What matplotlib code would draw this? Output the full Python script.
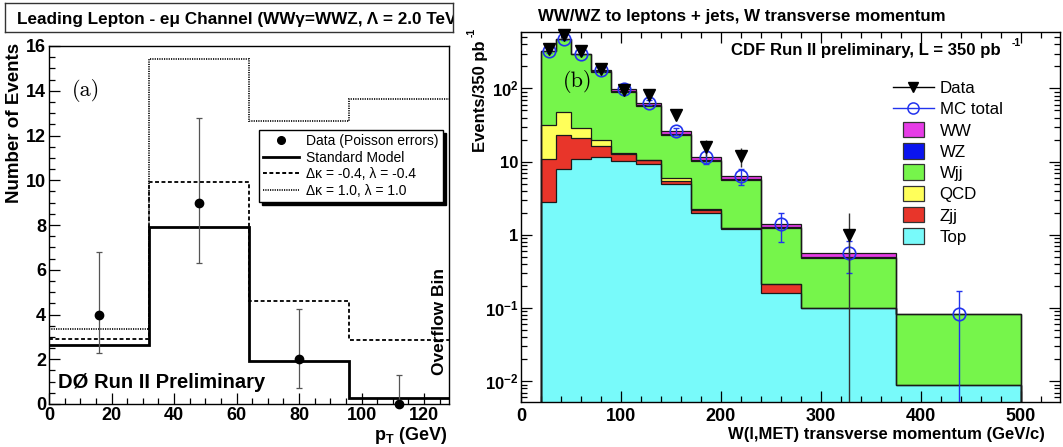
import numpy as np
import matplotlib
matplotlib.use('Agg')
import matplotlib.pyplot as plt
from matplotlib.lines import Line2D
from matplotlib.patches import Patch, Rectangle
from matplotlib.legend_handler import HandlerPatch
from matplotlib.ticker import MultipleLocator, FixedLocator, FixedFormatter, LogLocator, NullFormatter

plt.rcParams['font.family'] = ['Liberation Sans', 'DejaVu Sans']
plt.rcParams['mathtext.fontset'] = 'custom'
plt.rcParams['mathtext.rm'] = 'Liberation Sans'
plt.rcParams['mathtext.it'] = 'Liberation Sans:italic'
plt.rcParams['mathtext.bf'] = 'Liberation Sans:bold'

# ---- (a) D0 leading lepton pT, e-mu channel
d0_edges = [0, 32, 64, 96, 128]
d0_sm = [2.65, 7.9, 1.93, 0.27]
d0_dk_m04 = [2.9, 9.9, 4.62, 2.88]
d0_dk_p10 = [3.33, 15.4, 12.66, 13.65]
d0_data_x = [16, 48, 80, 112]
d0_data = [4, 9, 2, 0]
d0_err_lo = [1.7, 2.7, 1.3, 0.0]
d0_err_hi = [2.8, 3.8, 2.25, 1.3]

# ---- (b) CDF W transverse momentum, stacked MC
cdf_edges = [20, 35, 50, 70, 90, 115, 140, 170, 200, 240, 280, 375, 500]
cdf_top = [2.8, 7.9, 10.7, 11.4, 10.2, 9.2, 4.9, 1.97, 1.2, 0.16, 0.1, 0.0088]
cdf_zjj = [7.9, 15.1, 10.1, 5.1, 2.6, 1.3, 0.5, 0.23, 0.05, 0.05, 0.0, 0.0]
cdf_qcd = [20.9, 25.0, 8.2, 3.2, 0.3, 0.1, 0.5, 0.02, 0.0, 0.0, 0.0, 0.0]
cdf_wjj = [288, 424, 263, 149, 77.5, 47.7, 17.4, 8.1, 4.4, 1.02, 0.38, 0.074]
cdf_wz = [1.0, 2.0, 2.0, 2.0, 1.5, 1.2, 0.5, 0.25, 0.15, 0.03, 0.01, 0.0]
cdf_ww = [3.0, 6.0, 6.0, 7.0, 6.0, 4.5, 2.2, 1.1, 0.6, 0.15, 0.07, 0.0005]
cdf_mc_err = [15, 20, 15, 10, 6, 5, 3, 2.5, 1.6, 0.6, 0.26, 0.09]
cdf_data = [350, 533, 324, 183, 95, 81, 44, 16, 12, 0, 1, 0]
cdf_data_err = [19, 23, 18, 13.5, 9.7, 9, 6.6, 4, 3.5, 0, 1, 0]

W, H = 1063, 447
fig = plt.figure(figsize=(W / 100, H / 100), dpi=100)
fig.patch.set_facecolor('white')


def fx(px):
    return px / W


def fy(py):
    return 1 - py / H


# ---------------- left panel ----------------
tbox = fig.add_axes([fx(5), fy(32), fx(448), 29 / H])
tbox.set_xticks([])
tbox.set_yticks([])
for s in tbox.spines.values():
    s.set_linewidth(1.0)
    s.set_color('#333333')
tbox.text(0.027, 0.42, 'Leading Lepton - e\u03bc Channel (WW\u03b3=WWZ, \u039b = 2.0 TeV)',
          transform=tbox.transAxes, ha='left', va='center', fontsize=12.3,
          fontweight='bold', clip_on=True)

ax1 = fig.add_axes([fx(49), fy(404), fx(400), 358 / H])
ax1.stairs(d0_dk_p10, d0_edges, color='#222222', lw=1.4, ls=(0, (0.6, 0.6)), baseline=None)
ax1.stairs(d0_dk_m04, d0_edges, color='#111111', lw=1.4, ls=(0, (2, 1.3)), baseline=None)
ax1.stairs(d0_sm, d0_edges, color='black', lw=2.0, baseline=None)
ax1.errorbar(d0_data_x, d0_data, yerr=[d0_err_lo, d0_err_hi], fmt='o', color='black',
             ms=6, ecolor='#555555', elinewidth=0.9, capsize=2, capthick=0.9, clip_on=False, zorder=5)
ax1.set_xlim(0, 128)
ax1.set_ylim(0, 16)
ax1.xaxis.set_major_locator(MultipleLocator(20))
ax1.xaxis.set_minor_locator(MultipleLocator(5))
ax1.yaxis.set_major_locator(MultipleLocator(2))
ax1.yaxis.set_minor_locator(MultipleLocator(0.5))
ax1.tick_params(which='both', direction='in', labelsize=13, width=0.9)
ax1.tick_params(which='major', length=8)
ax1.tick_params(which='minor', length=4.5)
ax1.tick_params(axis='x', pad=2.5)
ax1.tick_params(axis='y', pad=2)
for lab in ax1.get_xticklabels() + ax1.get_yticklabels():
    lab.set_fontweight('bold')
for s in ax1.spines.values():
    s.set_linewidth(1.0)

leg1 = ax1.legend(
    [Line2D([], [], marker='o', color='black', ls='none', ms=5.5),
     Line2D([], [], color='black', lw=2.0),
     Line2D([], [], color='black', lw=1.4, ls=(0, (2, 1.3))),
     Line2D([], [], color='#222222', lw=1.4, ls=(0, (0.6, 0.6)))],
    ['Data (Poisson errors)', 'Standard Model',
     '\u0394\u03ba = -0.4, \u03bb = -0.4', '\u0394\u03ba = 1.0, \u03bb = 1.0'],
    loc='upper right', bbox_to_anchor=(0.985, 0.765), borderaxespad=0,
    fontsize=10, frameon=True, fancybox=False, edgecolor='black',
    shadow={'color': 'black', 'alpha': 1.0}, handlelength=2.6, handletextpad=0.5,
    labelspacing=0.18, borderpad=0.3)
leg1.get_frame().set_linewidth(1.0)

ax1.text(12, 14.0, '(a)', fontsize=16, fontfamily='cmr10', ha='center', va='center')
ax1.text(3, 0.7, 'D\u00d8 Run II Preliminary', fontsize=14.5, fontweight='bold',
         ha='left', va='baseline')
ax1.text(125, 3.7, 'Overflow Bin', fontsize=12.5, fontweight='bold', rotation=90,
         ha='center', va='center')

fig.text(fx(15), fy(43), 'Number of Events', rotation=90, ha='center', va='top',
         fontsize=13.5, fontweight='bold')
fig.text(fx(447), fy(435), r'$\mathbf{p_{T}}$ (GeV)', ha='right', va='center',
         fontsize=13, fontweight='bold')

# ---------------- right panel ----------------
ax2 = fig.add_axes([fx(521), fy(402), fx(539), 370 / H])
y_lo, y_hi = 0.0052, 590

comps = [cdf_top, cdf_zjj, cdf_qcd, cdf_wjj, cdf_wz, cdf_ww]
colors = ['#78FAFA', '#E8352A', '#FFFF5A', '#76F54B', '#0A14F0', '#E63CE6']
names = ['Top', 'Zjj', 'QCD', 'Wjj', 'WZ', 'WW']
cum = np.cumsum(np.array(comps, dtype=float), axis=0)
for i in range(len(comps) - 1, -1, -1):
    ax2.stairs(cum[i], cdf_edges, baseline=y_lo / 10, fill=True,
               facecolor=colors[i], edgecolor='none', zorder=1)
    ax2.stairs(cum[i], cdf_edges, baseline=y_lo / 10, fill=False,
               color='#1a1a1a', lw=0.9, zorder=2)

centers = 0.5 * (np.array(cdf_edges[:-1]) + np.array(cdf_edges[1:]))
total = cum[-1]
mc_err = np.array(cdf_mc_err)
mc_lo = np.maximum(total - mc_err, y_lo * 0.5)
mc_hi = total + mc_err
ax2.vlines(centers, mc_lo, mc_hi, color='#2233EE', lw=1.0, zorder=4)
ax2.hlines(mc_hi, centers - 3, centers + 3, color='#2233EE', lw=1.0, zorder=4)
ax2.hlines(mc_lo[mc_lo > y_lo], centers[mc_lo > y_lo] - 3, centers[mc_lo > y_lo] + 3,
           color='#2233EE', lw=1.0, zorder=4)
ax2.plot(centers, total, 'o', ms=9, mfc='none', mec='#2233EE', mew=1.2, zorder=5)

data = np.array(cdf_data, dtype=float)
derr = np.array(cdf_data_err, dtype=float)
has = data > 0
d_lo = np.maximum(data - derr, y_lo * 0.5)
ax2.vlines(centers[has], d_lo[has], data[has] + derr[has], color='#333333', lw=1.0, zorder=6)
ax2.plot(centers[has], data[has], 'v', ms=8.5, color='black', zorder=7, clip_on=False)

ax2.set_yscale('log')
ax2.set_xlim(0, 539)
ax2.set_ylim(y_lo, y_hi)
ax2.xaxis.set_major_locator(MultipleLocator(100))
ax2.xaxis.set_minor_locator(MultipleLocator(20))
ax2.yaxis.set_major_locator(FixedLocator([0.01, 0.1, 1, 10, 100]))
ax2.yaxis.set_major_formatter(FixedFormatter([r'$\mathbf{10^{-2}}$', r'$\mathbf{10^{-1}}$',
                                              '1', '10', r'$\mathbf{10^{2}}$']))
ax2.yaxis.set_minor_locator(LogLocator(base=10, subs=np.arange(2, 10)))
ax2.yaxis.set_minor_formatter(NullFormatter())
ax2.tick_params(which='both', direction='in', top=True, right=True, labelsize=13, width=0.9)
ax2.tick_params(axis='y', labelsize=12)
ax2.tick_params(which='major', length=8)
ax2.tick_params(which='minor', length=4.5)
ax2.tick_params(axis='x', pad=4)
ax2.tick_params(axis='y', pad=2)
for lab in ax2.get_xticklabels() + ax2.get_yticklabels():
    lab.set_fontweight('bold')
for s in ax2.spines.values():
    s.set_linewidth(1.0)


def small_box(legend, orig_handle, xdescent, ydescent, width, height, fontsize):
    w = 0.52 * width
    return Rectangle((-xdescent + (width - w) / 2, -ydescent - 0.15 * height), w, height * 1.3)


handles2 = [Line2D([], [], color='black', lw=1.0, marker='v', ms=7),
            Line2D([], [], color='#2233EE', lw=1.0, marker='o', ms=8, mfc='none', mew=1.1)]
handles2 += [Patch(facecolor=colors[i], edgecolor='#333333', lw=0.9) for i in [5, 4, 3, 2, 1, 0]]
labels2 = ['Data', 'MC total'] + [names[i] for i in [5, 4, 3, 2, 1, 0]]
fig.legend(handles2, labels2, loc='upper left', bbox_to_anchor=(fx(893), fy(81)),
           frameon=False, fontsize=12.2, handlelength=2.4, handletextpad=0.35,
           labelspacing=0.37, borderpad=0, borderaxespad=0,
           handler_map={Patch: HandlerPatch(patch_func=small_box)})

ax2.text(0.105, 0.865, '(b)', transform=ax2.transAxes, fontsize=16, fontfamily='cmr10',
         ha='center', va='center')
fig.text(fx(1001), fy(50), 'CDF Run II preliminary, L = 350 pb', ha='right', va='center',
         fontsize=12.1, fontweight='bold')
fig.text(fx(1016), fy(43), '-1', ha='center', va='center', fontsize=7.5, fontweight='bold')

fig.text(fx(538), fy(17), 'WW/WZ to leptons + jets, W transverse momentum', ha='left',
         va='center', fontsize=12.2, fontweight='bold')
fig.text(fx(481), fy(40), 'Events/350 pb', rotation=90, ha='center', va='top',
         fontsize=12, fontweight='bold')
fig.text(fx(472), fy(32), '-1', rotation=90, ha='center', va='center', fontsize=7.5,
         fontweight='bold')
fig.text(fx(1045), fy(434), 'W(l,MET) transverse momentum (GeV/c)', ha='right', va='center',
         fontsize=12, fontweight='bold')

fig.savefig('out.png', dpi=100)
